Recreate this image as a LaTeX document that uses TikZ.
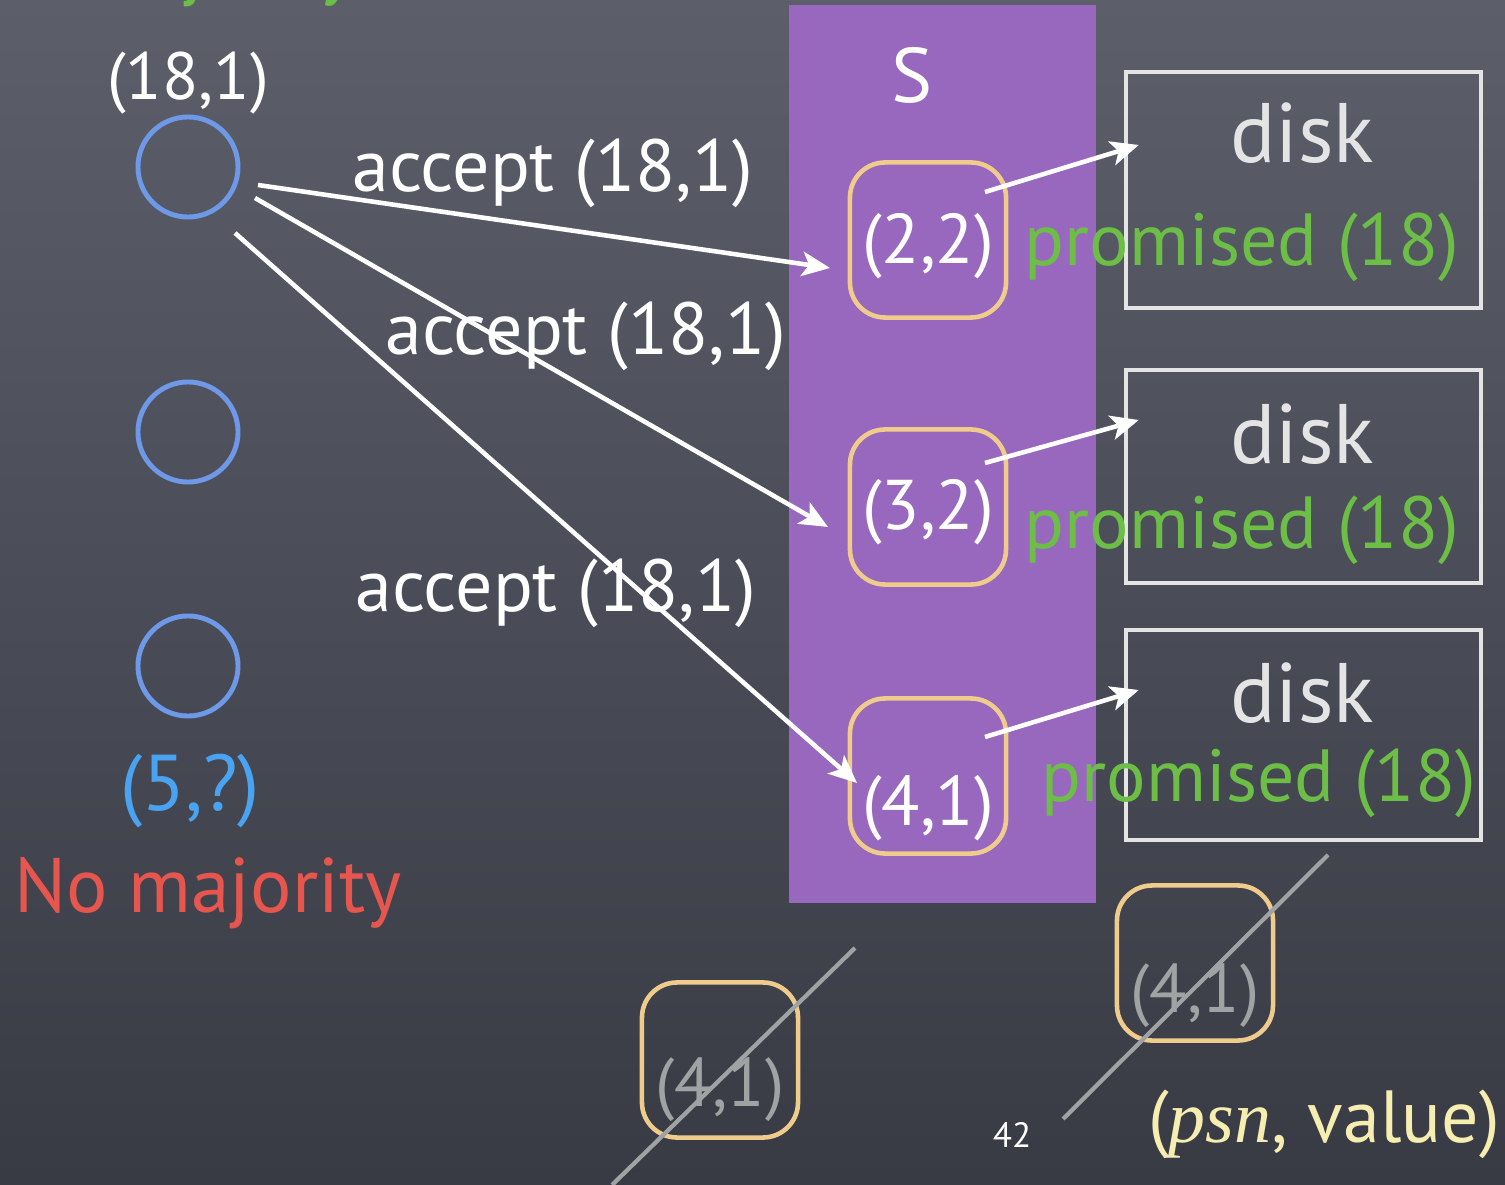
\documentclass[tikz,border=0pt]{standalone}
\usepackage{fontspec}
\setmainfont{PT Sans}
\newfontfamily\psnfont{Liberation Serif}
\usetikzlibrary{calc,arrows.meta}

\definecolor{bgtop}{RGB}{92,95,106}
\definecolor{bgbot}{RGB}{56,59,68}
\definecolor{accpurple}{RGB}{152,104,190}
\definecolor{propblue}{RGB}{110,152,232}
\definecolor{valblue}{RGB}{74,163,240}
\definecolor{boxorange}{RGB}{240,204,140}
\definecolor{diskgray}{RGB}{228,228,228}
\definecolor{promgreen}{RGB}{108,190,70}
\definecolor{nored}{RGB}{230,86,78}
\definecolor{slashgray}{RGB}{160,163,163}
\definecolor{psnyellow}{RGB}{246,238,176}

\newcommand{\setfs}[1]{\fontsize{#1}{#1}\selectfont}

\begin{document}
\begin{tikzpicture}[x=0.01cm, y=-0.01cm,
    proposer/.style={circle, draw=propblue, line width=1.4pt, minimum size=1cm, inner sep=0pt},
    accbox/.style={draw=boxorange, line width=1.3pt, rounded corners=10pt, minimum width=1.56cm, minimum height=1.55cm},
    diskbox/.style={draw=diskgray, line width=1.2pt, minimum width=3.55cm, inner sep=0pt},
    msg/.style={-{Stealth[length=8pt, width=7pt, inset=2pt]}, white, line width=1.3pt},
    strike/.style={slashgray, line width=1.2pt},
    txt/.style={anchor=base, inner sep=0pt, text=white}]

    % frame
    \useasboundingbox (0,0) rectangle (1505,1185);
    \clip (0,0) rectangle (1505,1185);
    \fill[top color=bgtop, bottom color=bgbot] (0,0) rectangle (1505,1185);
    \fill[accpurple] (789,5) rectangle (1096,903);

    % proposers
    \node[txt, text=promgreen, anchor=base east] (maj) at (356,-9) {\setfs{22}Majority};
    \node[txt] (v1) at (188,100) {\setfs{19}(18,1)};
    \node[proposer] (p1) at (188,167) {};
    \node[proposer] (p2) at (188,432) {};
    \node[proposer] (p3) at (188,666) {};
    \node[txt, text=valblue] (v3) at (190,810) {\setfs{22.5}(5,?)};
    \node[txt, text=nored] (nomaj) at (208,912) {\setfs{22}No majority};

    % acceptors
    \node[txt] (S) at (912,103) {\setfs{22}S};
    \node[accbox] (a1) at (928,240) {};
    \node[accbox] (a2) at (928,507) {};
    \node[accbox] (a3) at (928,776) {};
    \node[txt] (a1t) at (928,264) {\setfs{20}(2,2)};
    \node[txt] (a2t) at (928,530) {\setfs{20}(3,2)};
    \node[txt] (a3t) at (928,825) {\setfs{20}(4,1)};

    % disks
    \node[diskbox, minimum height=2.36cm] (d1) at (1303.5,190) {};
    \node[diskbox, minimum height=2.13cm] (d2) at (1303.5,476.5) {};
    \node[diskbox, minimum height=2.10cm] (d3) at (1303.5,735) {};
    \node[txt, text=diskgray] (d1t) at (1302,163) {\setfs{24}disk};
    \node[txt, text=diskgray] (d2t) at (1302,463) {\setfs{24}disk};
    \node[txt, text=diskgray] (d3t) at (1302,722) {\setfs{24}disk};
    \node[txt, text=promgreen] (pr1) at (1242,266) {\setfs{21}promised (18)};
    \node[txt, text=promgreen] (pr2) at (1242,548) {\setfs{21}promised (18)};
    \node[txt, text=promgreen] (pr3) at (1259,801) {\setfs{21}promised (18)};

    \draw[msg] ($(a1)+(57,-48)$) -- ($(d1.west)+(15,-45)$);
    \draw[msg] ($(a2)+(57,-44)$) -- ($(d2.west)+(15,-56.5)$);
    \draw[msg] ($(a3)+(57,-39)$) -- ($(d3.west)+(15,-45)$);

    % accept messages
    \draw[msg] ($(p1)+(70,18)$) -- ($(a1)+(-98,28)$);
    \draw[msg] ($(p1)+(67,31)$) -- ($(a2)+(-100,20)$);
    \draw[msg] ($(p1)+(47,66)$) -- ($(a3)+(-71,7)$);
    \node[txt] (m1) at (553,192) {\setfs{21}accept (18,1)};
    \node[txt] (m2) at (586,355) {\setfs{21}accept (18,1)};
    \node[txt] (m3) at (556,612) {\setfs{21}accept (18,1)};

    % crossed out values
    \node[accbox] (x1) at (720,1060) {};
    \node[txt, text=slashgray] (x1t) at (720,1106) {\setfs{19.5}(4,1)};
    \draw[strike] (855,948) -- (612,1185);
    \node[accbox] (x2) at (1195,963) {};
    \node[txt, text=slashgray] (x2t) at (1195,1012) {\setfs{19.5}(4,1)};
    \draw[strike] (1328,855) -- (1063,1119);

    \node[txt] (pg) at (1012,1147) {\setfs{10}42};
    \node[txt, text=psnyellow] (psn) at (1324,1142) {\setfs{21}({\psnfont\itshape psn}, value)};

\end{tikzpicture}
\end{document}
